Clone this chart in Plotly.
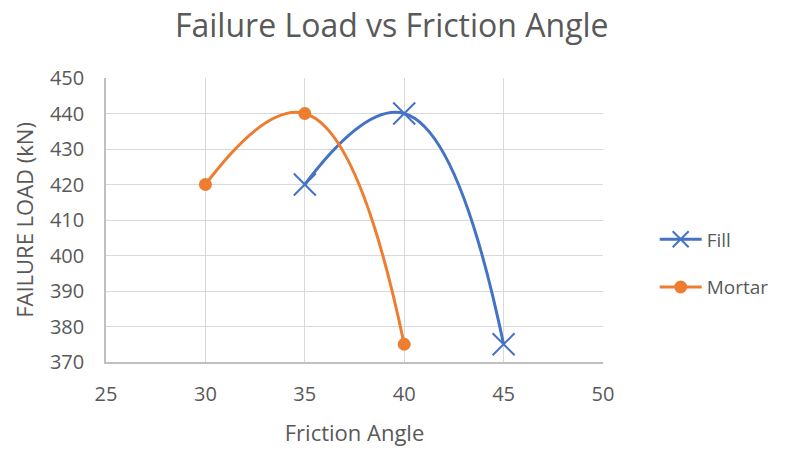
import plotly.graph_objects as go

fill_x = [35, 40, 45]
fill_y = [420, 440, 375]
mortar_x = [30, 35, 40]
mortar_y = [420, 440, 375]

x_ticks = [25, 30, 35, 40, 45, 50]
y_ticks = [370, 380, 390, 400, 410, 420, 430, 440, 450]

FONT = "Open Sans, Liberation Sans, sans-serif"
TXT = "#595959"

fig = go.Figure()
fig.add_trace(go.Scatter(
    x=fill_x, y=fill_y, name="Fill", mode="lines+markers",
    line=dict(color="#4472C4", width=3, shape="spline", smoothing=1.3),
    marker=dict(symbol="x-thin", size=22, color="#4472C4",
                line=dict(color="#4472C4", width=2)),
    legendgroup="a",
))
fig.add_trace(go.Scatter(
    x=mortar_x, y=mortar_y, name="Mortar", mode="lines+markers",
    line=dict(color="#ED7D31", width=3, shape="spline", smoothing=1.3),
    marker=dict(symbol="circle", size=13, color="#ED7D31"),
    legendgroup="b",
))

fig.update_layout(
    width=781, height=444,
    margin=dict(l=98, r=186, t=70, b=90),
    paper_bgcolor="white", plot_bgcolor="white",
    font=dict(family=FONT, color=TXT, size=20),
    title=dict(text="Failure Load vs Friction Angle", x=0.575, xanchor="center",
               xref="paper", yref="container", y=1 - 18 / 444,
               yanchor="middle", font=dict(size=32, color=TXT)),
    legend=dict(x=1.104, xanchor="left", y=0.347, yanchor="middle",
                font=dict(size=19, color=TXT), tracegroupgap=20,
                itemwidth=42),
    showlegend=True,
)
fig.update_xaxes(
    range=[25, 50], tickvals=x_ticks, showgrid=True, gridcolor="#D9D9D9",
    gridwidth=1, zeroline=False, showline=True, linecolor="#BFBFBF",
    linewidth=1.5, ticks="outside", ticklen=13, tickcolor="rgba(0,0,0,0)",
    tickfont=dict(size=20, color=TXT), automargin=False,
    title=dict(text="Friction Angle", font=dict(size=22, color=TXT), standoff=20),
)
fig.update_yaxes(
    range=[370, 450], tickvals=y_ticks, showgrid=True, gridcolor="#D9D9D9",
    gridwidth=1, zeroline=False, showline=True, linecolor="#BFBFBF",
    linewidth=1.5, ticks="outside", ticklen=16, tickcolor="rgba(0,0,0,0)",
    tickfont=dict(size=20, color=TXT), automargin=False,
    title=dict(text="FAILURE LOAD (kN)", font=dict(size=22, color=TXT), standoff=10),
)

fig.write_html("out.html")
